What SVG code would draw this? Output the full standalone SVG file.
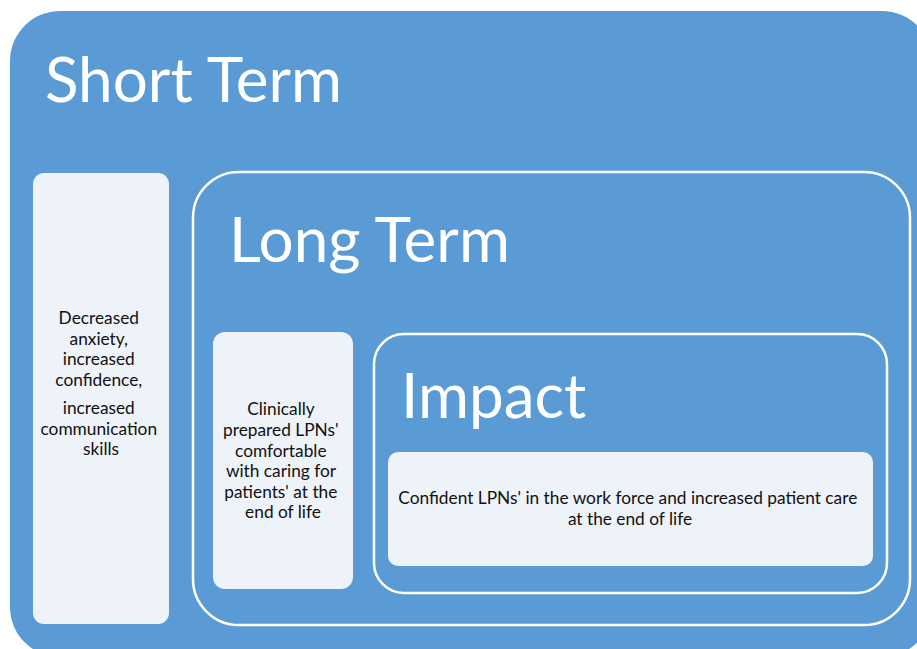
<svg xmlns="http://www.w3.org/2000/svg" width="917" height="649" viewBox="0 0 917 649">
  <style>
    .frame { fill: #5B9BD5; }
    .ring { fill: none; stroke: #FFFFFF; stroke-width: 2.5; }
    .card { fill: #EEF2F9; }
    .title { font-family: Lato, "Open Sans", sans-serif; font-size: 62px; fill: #FFFFFF; }
    .body { font-family: Lato, "Open Sans", sans-serif; font-size: 17.3px; fill: #111111; text-anchor: middle; }
  </style>

  <!-- Short Term: outer frame -->
  <g id="short-term">
    <rect class="frame" x="10" y="11" width="922" height="646" rx="50"/>
    <text class="title" x="45" y="102">Short Term</text>
  </g>

  <g id="short-term-outcomes">
    <rect class="card" x="33" y="173" width="136" height="451" rx="11"/>
    <text class="body">
      <tspan x="101" y="324">Decreased</tspan>
      <tspan x="101" y="345">anxiety,</tspan>
      <tspan x="101" y="365">increased</tspan>
      <tspan x="101" y="386">confidence,</tspan>
      <tspan x="101" y="414">increased</tspan>
      <tspan x="101" y="435">communication</tspan>
      <tspan x="101" y="455">skills</tspan>
    </text>
  </g>

  <!-- Long Term -->
  <g id="long-term">
    <rect class="ring" x="193" y="172" width="717" height="453" rx="46"/>
    <text class="title" x="229" y="262">Long Term</text>
  </g>

  <g id="long-term-outcomes">
    <rect class="card" x="213" y="332" width="140" height="257" rx="12"/>
    <text class="body">
      <tspan x="283" y="415">Clinically</tspan>
      <tspan x="283" y="436">prepared LPNs'</tspan>
      <tspan x="283" y="457">comfortable</tspan>
      <tspan x="283" y="477">with caring for</tspan>
      <tspan x="283" y="498">patients' at the</tspan>
      <tspan x="283" y="518">end of life</tspan>
    </text>
  </g>

  <!-- Impact -->
  <g id="impact">
    <rect class="ring" x="374" y="334" width="513" height="259" rx="30"/>
    <text class="title" x="401" y="418">Impact</text>
  </g>

  <g id="impact-outcomes">
    <rect class="card" x="388" y="452" width="485" height="114" rx="10"/>
    <text class="body">
      <tspan x="630" y="504">Confident LPNs' in the work force and increased patient care</tspan>
      <tspan x="630" y="525">at the end of life</tspan>
    </text>
  </g>

  <g id="connectors"/>
</svg>
